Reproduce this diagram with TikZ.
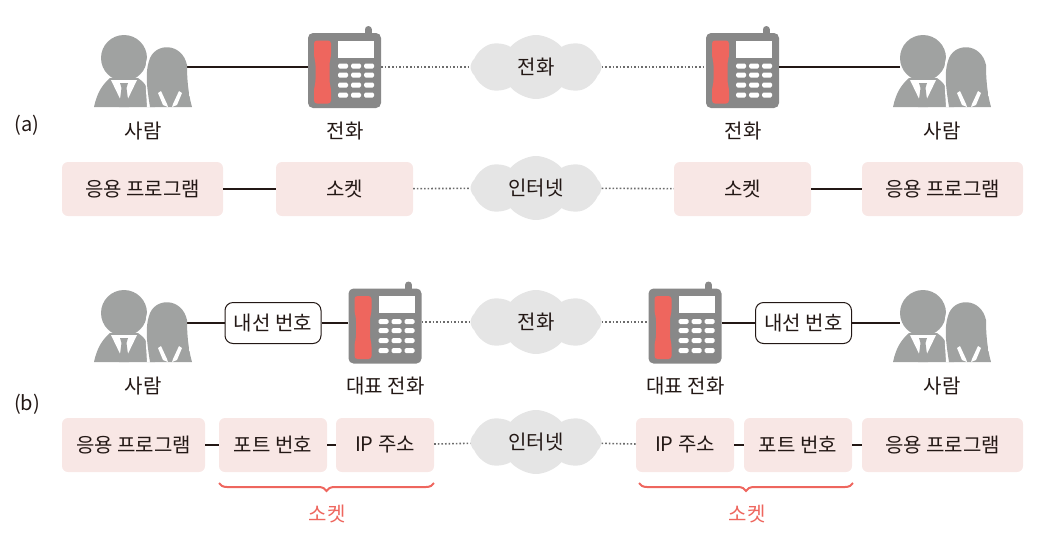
\documentclass[tikz,border=0pt]{standalone}
\usepackage{fontspec}
\setmainfont{Noto Sans CJK KR}
\usetikzlibrary{shapes.symbols,decorations.pathreplacing}
\definecolor{persongray}{HTML}{A0A2A1}
\definecolor{phonegray}{HTML}{888888}
\definecolor{phonered}{HTML}{EE665E}
\definecolor{boxpink}{HTML}{F8E7E5}
\definecolor{cloudgray}{HTML}{E5E5E5}
\definecolor{inkdark}{HTML}{231815}
\tikzset{
    x=1pt, y=-1pt,
    every node/.style={text=inkdark, font=\fontsize{20}{23}\selectfont},
    solidline/.style={draw=inkdark, line width=2pt},
    dotline/.style={draw=gray!85!black, line width=1.6pt, dotted},
    infobox/.style={fill=boxpink, rounded corners=6pt, minimum height=54pt, inner sep=0pt},
    extbox/.style={draw=inkdark, fill=white, line width=1pt, rounded corners=8pt, minimum width=96pt, minimum height=41pt, inner sep=0pt},
    netcloud/.style={cloud, cloud puffs=8, cloud puff arc=100, aspect=2, fill=cloudgray, minimum width=131pt, minimum height=64pt, inner sep=0pt},
    phonebody/.style={fill=phonegray, rounded corners=5pt, minimum width=73pt, minimum height=75pt, inner sep=0pt},
    personspot/.style={minimum width=90pt, minimum height=40pt, inner sep=0pt},
    redbrace/.style={draw=phonered, line width=2pt, decorate, decoration={brace, mirror, amplitude=8pt}},
    personpair/.pic={
        % man
        \fill[persongray] (0,0) circle (23);
        \fill[persongray] (-30,49) .. controls (-27,35) and (-22,27) .. (-14,20)
            -- (14,20) .. controls (23,26) and (28,36) .. (31,49) -- cycle;
        \fill[white] (-13,22) -- (13,22) -- (0,49) -- cycle;
        \fill[persongray] (-4,25) -- (4,25) -- (2.5,30) -- (5,49) -- (-5,49) -- (-2.5,30) -- cycle;
        % woman
        \fill[white] (23,49) .. controls (22,30) and (20,12) .. (23,0) -- (45,-15) -- (45,49) -- cycle;
        \fill[persongray] (26,49) .. controls (23,30) and (21,15) .. (25,3)
            .. controls (30,-16) and (58,-16) .. (63,7)
            .. controls (63,20) and (64,35) .. (68,49) -- cycle;
        \fill[white] (34,35) -- (37,33) -- (43,46) -- (44,49) -- (39,47) -- cycle;
        \fill[white] (58,35) -- (55,33) -- (49,46) -- (48,49) -- (53,47) -- cycle;
        \fill[white] (65,33) -- (69,36) -- (65,38) -- cycle;
    },
    phoneparts/.pic={
        \draw[phonegray, line width=7pt, line cap=round] (23.5,-41) -- (23.5,-36);
        \fill[phonered, rounded corners=3pt] (-30.5,-30) -- (-13.5,-30) -- (-13.5,-14) -- (-15,-8)
            -- (-15,12) -- (-13.5,18) -- (-13.5,33) -- (-30.5,33) -- (-30.5,18) -- (-29,12)
            -- (-29,-8) -- (-30.5,-14) -- cycle;
        \fill[white] (-6.5,-30) rectangle (29.5,-13);
        \foreach \ky in {-4.5,4.5,14.5,24.5}{
            \foreach \kx in {-6.5,6.5,19.5}{
                \fill[white, rounded corners=1.5pt] (\kx,\ky-2.5) rectangle (\kx+10,\ky+2.5);
            }
        }
    }
}
\begin{document}
\begin{tikzpicture}
    \useasboundingbox (0,0) rectangle (1046,539);

    % (a) upper row
    \node[personspot] (perA) at (142,67) {};
    \node[personspot] (perB) at (945,67) {};
    \node[phonebody] (telA) at (344.5,70.5) {};
    \node[phonebody] (telB) at (742.5,70.5) {};
    \node[netcloud] (cloudA) at (536,67) {전화};
    \draw[solidline] (perA.east) -- (telA.west |- perA.east);
    \draw[solidline] (telB.east |- perB.west) -- (perB.west);
    \draw[dotline] (telA.east |- cloudA.west) -- (cloudA.west);
    \draw[dotline] (cloudA.east) -- (telB.west |- cloudA.east);
    \pic at (124,58) {personpair};
    \pic at (923,58) {personpair};
    \pic at (344.5,70.5) {phoneparts};
    \pic at (742.5,70.5) {phoneparts};
    \node (lblA) at (143,131) {사람};
    \node (lblB) at (345,131) {전화};
    \node (lblC) at (743,131) {전화};
    \node (lblD) at (942,131) {사람};

    % (a) lower row
    \node[infobox, minimum width=161pt] (appA) at (142.5,189) {응용 프로그램};
    \node[infobox, minimum width=137pt] (sockA) at (344.5,189) {소켓};
    \node[netcloud] (cloudB) at (536,188) {인터넷};
    \node[infobox, minimum width=137pt] (sockB) at (742.5,189) {소켓};
    \node[infobox, minimum width=161pt] (appB) at (942.5,189) {응용 프로그램};
    \draw[solidline] (appA) -- (sockA);
    \draw[solidline] (sockB) -- (appB);
    \draw[dotline] (sockA) -- (cloudB);
    \draw[dotline] (cloudB) -- (sockB);

    % (b) upper row
    \node[personspot] (perC) at (142,323) {};
    \node[personspot] (perD) at (945,323) {};
    \node[phonebody] (telC) at (385,326) {};
    \node[phonebody] (telD) at (685,326) {};
    \node[netcloud] (cloudC) at (536,322) {전화};
    \node[extbox] (extA) at (273,323) {내선 번호};
    \node[extbox] (extB) at (803.5,323) {내선 번호};
    \draw[solidline] (perC.east) -- (extA);
    \draw[solidline] (extA) -- (telC.west |- extA);
    \draw[solidline] (telD.east |- extB) -- (extB);
    \draw[solidline] (extB) -- (perD.west |- extB);
    \draw[dotline] (telC.east |- cloudC.west) -- (cloudC.west);
    \draw[dotline] (cloudC.east) -- (telD.west |- cloudC.east);
    \pic at (124,313) {personpair};
    \pic at (923,313) {personpair};
    \pic at (385,326) {phoneparts};
    \pic at (685,326) {phoneparts};
    \node (lblE) at (143,386) {사람};
    \node (lblF) at (385.5,386) {대표 전화};
    \node (lblG) at (685.5,386) {대표 전화};
    \node (lblH) at (942,386) {사람};

    % (b) lower row
    \node[infobox, minimum width=143pt] (appC) at (133.5,445) {응용 프로그램};
    \node[infobox, minimum width=108pt] (portA) at (273,445) {포트 번호};
    \node[infobox, minimum width=98pt] (ipA) at (385,445) {IP 주소};
    \node[netcloud] (cloudD) at (536,442) {인터넷};
    \node[infobox, minimum width=98pt] (ipB) at (685,445) {IP 주소};
    \node[infobox, minimum width=108pt] (portB) at (798,445) {포트 번호};
    \node[infobox, minimum width=161pt] (appD) at (942.5,445) {응용 프로그램};
    \draw[solidline] (appC) -- (portA);
    \draw[solidline] (portA) -- (ipA);
    \draw[dotline] (ipA) -- (cloudD);
    \draw[dotline] (cloudD) -- (ipB);
    \draw[solidline] (ipB) -- (portB);
    \draw[solidline] (portB) -- (appD);

    % socket braces
    \coordinate (brA) at (219,483);
    \coordinate (brB) at (434,483);
    \coordinate (brC) at (639,483);
    \coordinate (brD) at (853,483);
    \draw[redbrace] (brA) -- (brB);
    \draw[redbrace] (brC) -- (brD);
    \node[text=phonered] (sockC) at (327,514) {소켓};
    \node[text=phonered] (sockD) at (747,514) {소켓};

    \node (partA) at (27,125) {(a)};
    \node (partB) at (27,404) {(b)};
\end{tikzpicture}
\end{document}
